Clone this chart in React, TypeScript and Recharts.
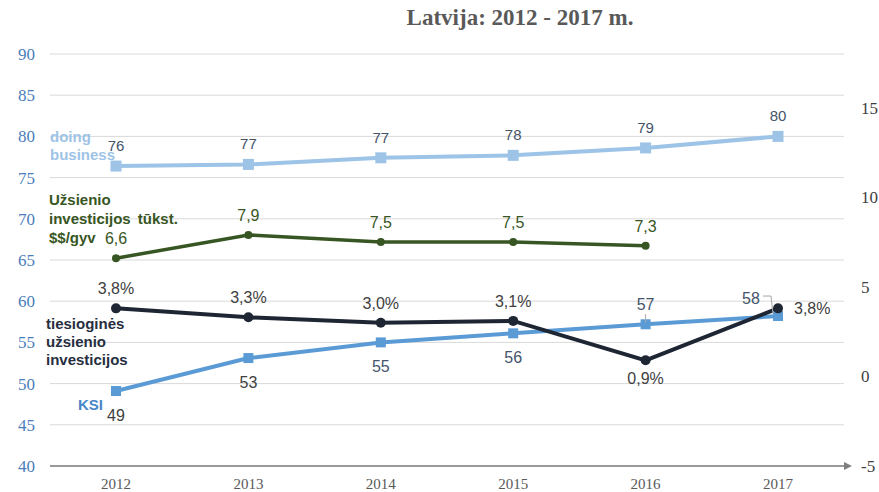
import * as React from 'react'
import {
  LineChart,
  Line,
  XAxis,
  YAxis,
  CartesianGrid,
  LabelList,
} from 'recharts'

const YEARS = ['2012', '2013', '2014', '2015', '2016', '2017']
const DOING_BUSINESS = [76.4, 76.6, 77.4, 77.7, 78.6, 80.0]
const KSI = [49.1, 53.1, 55.0, 56.1, 57.2, 58.2]
const FDI_PER_CAPITA: (number | null)[] = [6.6, 7.9, 7.5, 7.5, 7.3, null]
const FDI_GROWTH = [3.8, 3.3, 3.0, 3.1, 0.9, 3.8]

const LEFT_TICKS = [40, 45, 50, 55, 60, 65, 70, 75, 80, 85, 90]
const RIGHT_TICKS = [-5, 0, 5, 10, 15]

const data = YEARS.map((year, i) => ({
  year,
  doing: DOING_BUSINESS[i],
  ksi: KSI[i],
  fdiCap: FDI_PER_CAPITA[i],
  fdiGrowth: FDI_GROWTH[i],
}))

const C = {
  doing: '#9DC3E6',
  ksi: '#5B9BD5',
  green: '#375623',
  dark: '#1F2633',
  slate: '#44546A',
  grey: '#404040',
}

const SANS = 'Arial, "Liberation Sans", sans-serif'
const SERIF = '"Times New Roman", "Liberation Serif", serif'

const comma = (v: number, d = 1) => v.toFixed(d).replace('.', ',')

const square = (size: number, color: string) => (p: any) => {
  if (p.cx == null || p.cy == null) return <g key={p.index} />
  return (
    <rect key={p.index} x={p.cx - size / 2} y={p.cy - size / 2} width={size} height={size} fill={color} />
  )
}

const circle = (r: number, color: string) => (p: any) => {
  if (p.cx == null || p.cy == null) return <g key={p.index} />
  return <circle key={p.index} cx={p.cx} cy={p.cy} r={r} fill={color} />
}

const doingLabel = (p: any) => (
  <text x={p.x} y={p.y - 15} textAnchor="middle" fontSize={15} fontFamily={SANS} fill={C.slate}>
    {Math.round(p.value)}
  </text>
)

const greenLabel = (p: any) => {
  if (p.value == null) return null
  return (
    <text x={p.x} y={p.y - 14} textAnchor="middle" fontSize={16} fontFamily={SANS} fill={C.green}>
      {comma(p.value)}
    </text>
  )
}

const ksiLabel = (p: any) => {
  const t = String(Math.round(p.value))
  if (p.index === 4) {
    return (
      <g>
        <line x1={p.x} y1={p.y - 10} x2={p.x} y2={p.y - 2} stroke="#A6A6A6" strokeWidth={1} />
        <text x={p.x} y={p.y - 14} textAnchor="middle" fontSize={16} fontFamily={SANS} fill={C.slate}>{t}</text>
      </g>
    )
  }
  if (p.index === 5) {
    return (
      <g>
        <polyline points={`${p.x - 15},${p.y - 20} ${p.x - 7},${p.y - 20} ${p.x - 5},${p.y - 2}`} fill="none" stroke="#A6A6A6" strokeWidth={1} />
        <text x={p.x - 27} y={p.y - 12} textAnchor="middle" fontSize={16} fontFamily={SANS} fill={C.slate}>{t}</text>
      </g>
    )
  }
  return (
    <text x={p.x} y={p.y + 30} textAnchor="middle" fontSize={16} fontFamily={SANS} fill={p.index < 2 ? C.grey : C.slate}>
      {t}
    </text>
  )
}

const growthLabel = (p: any) => {
  const t = comma(p.value) + '%'
  if (p.index === 4) {
    return <text x={p.x} y={p.y + 24} textAnchor="middle" fontSize={16} fontFamily={SANS} fill={C.grey}>{t}</text>
  }
  if (p.index === 5) {
    return <text x={p.x + 16} y={p.y + 6} textAnchor="start" fontSize={16} fontFamily={SANS} fill={C.grey}>{t}</text>
  }
  return <text x={p.x} y={p.y - 14} textAnchor="middle" fontSize={16} fontFamily={SANS} fill={C.grey}>{t}</text>
}

const nameStyle: React.CSSProperties = {
  position: 'absolute',
  fontFamily: SANS,
  fontWeight: 'bold',
  fontSize: 15,
  whiteSpace: 'nowrap',
}

export default function App() {
  return (
    <div style={{ position: 'absolute', left: 0, top: 0, width: 879, height: 492, background: '#fff' }}>
      <div
        style={{
          position: 'absolute', left: 0, width: 1040, top: 5, textAlign: 'center',
          fontFamily: SERIF, fontWeight: 'bold', fontSize: 23, color: '#595959',
        }}
      >
        Latvija: 2012 - 2017 m.
      </div>
      <LineChart width={879} height={492} data={data} margin={{ top: 54, right: 0, bottom: 0, left: 0 }}>
        <defs>
          <marker id="xArrow" viewBox="0 0 10 10" refX="0" refY="5" markerWidth="8" markerHeight="8" markerUnits="userSpaceOnUse" orient="auto">
            <path d="M0,0 L10,5 L0,10 z" fill="#7F7F7F" />
          </marker>
        </defs>
        <CartesianGrid vertical={false} yAxisId="left" stroke="#D9D9D9" strokeWidth={1} />
        <XAxis
          dataKey="year"
          height={26}
          padding={{ left: 66, right: 66 }}
          tickLine={false}
          tickSize={0}
          tickMargin={12}
          axisLine={{ stroke: '#7F7F7F', strokeWidth: 1.5, markerEnd: 'url(#xArrow)' }}
          tick={{ fill: '#595959', fontSize: 15, fontFamily: SERIF }}
        />
        <YAxis
          yAxisId="left"
          width={50}
          domain={[40, 90]}
          ticks={LEFT_TICKS}
          axisLine={false}
          tickLine={false}
          tickSize={0}
          tickMargin={15}
          tick={{ fill: '#4A7EBB', fontSize: 17, fontFamily: SERIF }}
        />
        <YAxis
          yAxisId="right"
          orientation="right"
          width={35}
          domain={[-5, 18]}
          ticks={RIGHT_TICKS}
          allowDataOverflow
          axisLine={false}
          tickLine={false}
          tickSize={0}
          tickMargin={17}
          tick={{ fill: C.grey, fontSize: 17, fontFamily: SERIF, textAnchor: 'start' }}
        />
        <Line
          yAxisId="left"
          dataKey="doing"
          stroke={C.doing}
          strokeWidth={4}
          dot={square(11, C.doing)}
          isAnimationActive={false}
        >
          <LabelList dataKey="doing" content={doingLabel} />
        </Line>
        <Line
          yAxisId="right"
          dataKey="fdiCap"
          stroke={C.green}
          strokeWidth={3.5}
          dot={circle(4, C.green)}
          isAnimationActive={false}
        >
          <LabelList dataKey="fdiCap" content={greenLabel} />
        </Line>
        <Line
          yAxisId="left"
          dataKey="ksi"
          stroke={C.ksi}
          strokeWidth={4}
          dot={square(10, C.ksi)}
          isAnimationActive={false}
        >
          <LabelList dataKey="ksi" content={ksiLabel} />
        </Line>
        <Line
          yAxisId="right"
          dataKey="fdiGrowth"
          stroke={C.dark}
          strokeWidth={4}
          dot={circle(5, C.dark)}
          isAnimationActive={false}
        >
          <LabelList dataKey="fdiGrowth" content={growthLabel} />
        </Line>
      </LineChart>
      <div style={{ ...nameStyle, left: 50, top: 128, lineHeight: '18px', color: C.doing }}>
        doing<br />business
      </div>
      <div style={{ ...nameStyle, left: 49, top: 190, lineHeight: '19px', color: C.green, wordSpacing: 3 }}>
        Užsienio<br />investicijos tūkst.<br />$$/gyv
      </div>
      <div style={{ ...nameStyle, left: 46, top: 315, lineHeight: '18px', color: '#262E40' }}>
        tiesioginės<br />užsienio<br />investicijos
      </div>
      <div style={{ ...nameStyle, left: 78, top: 396, lineHeight: '18px', color: '#4A86C8' }}>
        KSI
      </div>
    </div>
  )
}
